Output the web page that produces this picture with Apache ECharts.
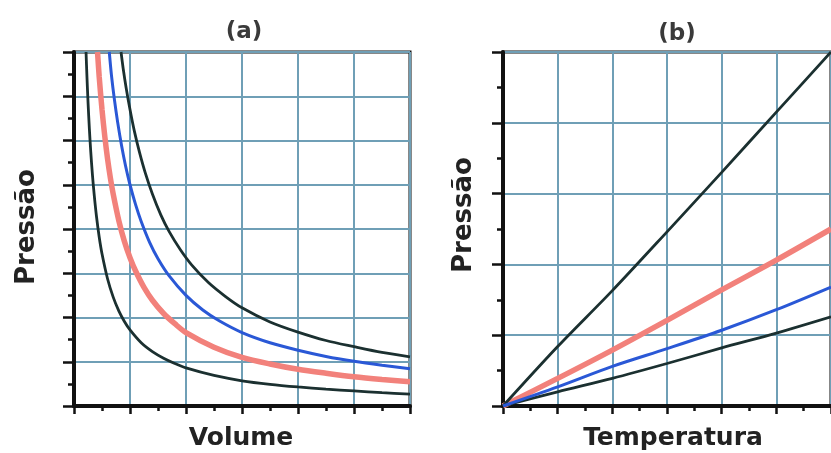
<!DOCTYPE html>
<html><head><meta charset="utf-8">
<script src="https://cdn.jsdelivr.net/npm/echarts@6/dist/echarts.min.js"></script>
<style>html,body{margin:0;padding:0;background:#fff}#c{width:831px;height:453px}</style>
</head><body><div id="c"></div>
<script>
// Panel (a): Pressão vs Volume (isotherms)
const isoLowBlack = [[0.215,8],[0.23,7.48],[0.25,6.88],[0.275,6.25],[0.3,5.73],[0.33,5.21],[0.36,4.78],[0.4,4.3],[0.45,3.82],[0.5,3.44],[0.6,2.87],[0.7,2.46],[0.8,2.15],[0.9,1.91],[1,1.72],[1.2,1.43],[1.4,1.23],[1.6,1.08],[1.8,0.96],[2,0.86],[2.5,0.69],[3,0.57],[3.5,0.49],[4,0.43],[4.5,0.38],[5,0.34],[5.5,0.3],[6,0.27]];
const isoRed      = [[0.42,8],[0.45,7.44],[0.5,6.7],[0.55,6.09],[0.6,5.58],[0.65,5.15],[0.7,4.79],[0.8,4.19],[0.9,3.72],[1,3.35],[1.1,3.05],[1.25,2.68],[1.4,2.39],[1.6,2.09],[1.8,1.86],[2,1.66],[2.5,1.33],[3,1.1],[3.5,0.95],[4,0.83],[4.5,0.74],[5,0.66],[5.5,0.6],[6,0.55]];
const isoBlue     = [[0.63,8],[0.67,7.46],[0.72,6.94],[0.78,6.41],[0.85,5.88],[0.92,5.43],[1,5.0],[1.1,4.55],[1.2,4.17],[1.35,3.7],[1.5,3.33],[1.7,2.94],[2,2.5],[2.3,2.17],[2.6,1.92],[3,1.66],[3.5,1.43],[4,1.26],[4.5,1.12],[5,1.01],[5.5,0.92],[6,0.84]];
const isoTopBlack = [[0.84,8],[0.88,7.61],[0.93,7.2],[1,6.7],[1.08,6.2],[1.17,5.73],[1.27,5.28],[1.4,4.79],[1.55,4.32],[1.7,3.94],[1.9,3.53],[2.1,3.19],[2.4,2.79],[2.7,2.48],[3,2.22],[3.5,1.9],[4,1.67],[4.5,1.48],[5,1.34],[5.5,1.21],[6,1.11]];
// Panel (b): Pressão vs Temperatura (isochores)
const tempX       = [0,1,2,3,4,5,6];
const chSteep     = [0,0.84,1.63,2.46,3.3,4.15,5.0];
const chRed       = [0,0.39,0.79,1.21,1.64,2.06,2.5];
const chBlue      = [0,0.27,0.56,0.81,1.07,1.36,1.68];
const chLowBlack  = [0,0.2,0.39,0.6,0.82,1.03,1.26];
const titles = ['(a)','(b)'];
const xNames = ['Volume','Temperatura'];
const yName = 'Pressão';

const BLACK = '#1b3030', RED = '#f2817b', BLUE = '#2a58d6', GRIDC = '#6f9fb6';
const FONT = 'DejaVu Sans';

function xAx(i, max){
  return {gridIndex:i, type:'value', min:0, max:max, interval:1,
    axisLine:{show:true, onZero:false, lineStyle:{color:'#111', width:4}},
    axisTick:{show:true, length:8, lineStyle:{color:'#111', width:2.5}},
    minorTick:{show:true, splitNumber:2, length:5, lineStyle:{color:'#111', width:2.5}},
    axisLabel:{show:false},
    splitLine:{show:true, lineStyle:{color:GRIDC, width:2}}};
}
function yAx(i, max){
  return {gridIndex:i, type:'value', min:0, max:max, interval:1,
    axisLine:{show:true, onZero:false, lineStyle:{color:'#111', width:4}},
    axisTick:{show:true, length:11, lineStyle:{color:'#111', width:2.5}},
    minorTick:{show:true, splitNumber:2, length:6, lineStyle:{color:'#111', width:2.5}},
    axisLabel:{show:false},
    splitLine:{show:true, lineStyle:{color:GRIDC, width:2}}};
}
function ln(xi, data, color, w, z){
  return {type:'line', xAxisIndex:xi, yAxisIndex:xi, data:data, showSymbol:false, symbol:'none',
    smooth:0.3, lineStyle:{color:color, width:w}, z:z, animation:false, clip:true};
}
const zip = (xs, ys) => xs.map((x,i)=>[x, ys[i]]);

const chart = echarts.init(document.getElementById('c'), null, {renderer:'canvas'});
chart.setOption({
  animation:false,
  backgroundColor:'#fff',
  grid:[
    {left:74, top:52, width:336, height:354, show:true, borderColor:'#111', borderWidth:3, backgroundColor:'#fff'},
    {left:503, top:52, width:341, height:354, show:true, borderColor:'#111', borderWidth:3, backgroundColor:'#fff'}
  ],
  xAxis:[xAx(0,6), xAx(1,6)],
  yAxis:[yAx(0,8), yAx(1,5)],
  series:[
    ln(0, isoLowBlack, BLACK, 2.8, 3),
    ln(0, isoRed, RED, 5.5, 2),
    ln(0, isoBlue, BLUE, 3, 4),
    ln(0, isoTopBlack, BLACK, 2.8, 3),
    ln(1, zip(tempX, chSteep), BLACK, 2.8, 3),
    ln(1, zip(tempX, chRed), RED, 5.5, 2),
    ln(1, zip(tempX, chBlue), BLUE, 3, 4),
    ln(1, zip(tempX, chLowBlack), BLACK, 2.8, 3)
  ],
  graphic:[
    {type:'text', x:244, y:32, style:{text:titles[0], font:'bold 23px "'+FONT+'"', fill:'#3a3a3a', align:'center', verticalAlign:'middle'}},
    {type:'text', x:677, y:34, style:{text:titles[1], font:'bold 23px "'+FONT+'"', fill:'#3a3a3a', align:'center', verticalAlign:'middle'}},
    {type:'text', x:241, y:438, style:{text:xNames[0], font:'bold 25px "'+FONT+'"', fill:'#222', align:'center', verticalAlign:'middle'}},
    {type:'text', x:673, y:438, style:{text:xNames[1], font:'bold 25px "'+FONT+'"', fill:'#222', align:'center', verticalAlign:'middle'}},
    {type:'text', x:27, y:227, rotation:Math.PI/2, style:{text:yName, font:'bold 26px "'+FONT+'"', fill:'#222', align:'center', verticalAlign:'middle'}},
    {type:'text', x:464, y:215, rotation:Math.PI/2, style:{text:yName, font:'bold 26px "'+FONT+'"', fill:'#222', align:'center', verticalAlign:'middle'}}
  ]
});
</script></body></html>
